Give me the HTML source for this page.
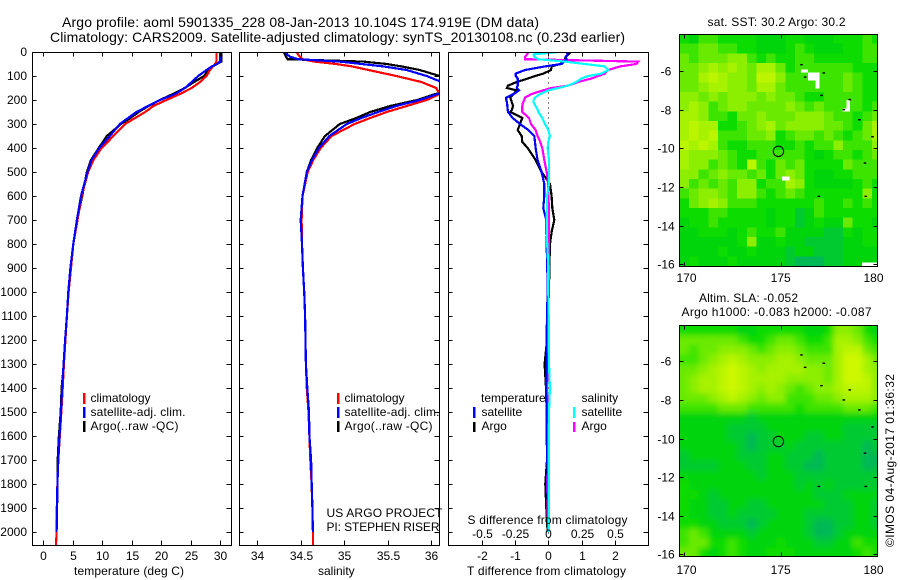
<!DOCTYPE html>
<html>
<head>
<meta charset="utf-8">
<title>Argo profile chart</title>
<style>
html,body{margin:0;padding:0;background:#fff;width:900px;height:580px;overflow:hidden}
svg{display:block;font-family:"Liberation Sans",sans-serif;fill:#000}
text{font-size:12px;fill:#000}
.t14{font-size:14px}
.line{fill:none;shape-rendering:crispEdges;stroke-linejoin:miter}
.crisp{shape-rendering:crispEdges}
</style>
</head>
<body>
<svg id="chart" xmlns="http://www.w3.org/2000/svg" width="900" height="580" viewBox="0 0 900 580">
  <defs>
    <clipPath id="clip-temp"><rect x="32" y="52" width="199" height="494"/></clipPath>
    <clipPath id="clip-sal"><rect x="239" y="52" width="201" height="494"/></clipPath>
    <clipPath id="clip-diff"><rect x="448" y="52" width="201" height="494"/></clipPath>
    <clipPath id="clip-sst"><rect x="679" y="34" width="199" height="232"/></clipPath>
    <clipPath id="clip-sla"><rect x="679" y="325" width="199" height="231"/></clipPath>
    <filter id="smooth-sla" filterUnits="userSpaceOnUse" x="660" y="300" width="240" height="280"><feGaussianBlur stdDeviation="2.8"/></filter>
  </defs>

  <text class="t14" x="62" y="27" textLength="477">Argo profile: aoml 5901335_228 08-Jan-2013 10.104S 174.919E (DM data)</text>
  <text class="t14" x="50" y="42" textLength="575">Climatology: CARS2009. Satellite-adjusted climatology: synTS_20130108.nc (0.23d earlier)</text>

  <g id="marks"></g>
  <g id="axes"></g>

  <g>
    <rect x="83" y="393" width="2.5" height="11" fill="#f00"/>
    <text x="90.5" y="402">climatology</text>
    <rect x="83" y="407" width="2.5" height="11" fill="#00f"/>
    <text x="90.5" y="416" textLength="95">satellite-adj. clim.</text>
    <rect x="83" y="421" width="2.5" height="11" fill="#000"/>
    <text x="90.5" y="430" textLength="88">Argo(..raw -QC)</text>
  </g>
  <text x="74" y="575" textLength="110">temperature (deg C)</text>

  <g>
    <rect x="337" y="393" width="2.5" height="11" fill="#f00"/>
    <text x="344.5" y="402">climatology</text>
    <rect x="337" y="407" width="2.5" height="11" fill="#00f"/>
    <text x="344.5" y="416" textLength="95">satellite-adj. clim.</text>
    <rect x="337" y="421" width="2.5" height="11" fill="#000"/>
    <text x="344.5" y="430" textLength="88">Argo(..raw -QC)</text>
  </g>
  <text x="326.5" y="517" textLength="116">US ARGO PROJECT</text>
  <text x="326.5" y="531" textLength="113">PI: STEPHEN RISER</text>
  <text x="318" y="575">salinity</text>

  <g>
    <text x="481" y="402">temperature</text>
    <rect x="473" y="407" width="2.5" height="11" fill="#00f"/>
    <text x="481.5" y="416">satellite</text>
    <rect x="473" y="422" width="2.5" height="10" fill="#000"/>
    <text x="481.5" y="430">Argo</text>
    <text x="581.5" y="402">salinity</text>
    <rect x="573" y="407" width="2.5" height="11" fill="#0ff"/>
    <text x="581.5" y="416">satellite</text>
    <rect x="573" y="422" width="2.5" height="10" fill="#f0f"/>
    <text x="581.5" y="430">Argo</text>
  </g>
  <text x="467.5" y="524" textLength="160">S difference from climatology</text>
  <text x="467" y="575" textLength="159">T difference from climatology</text>

  <text x="707.5" y="26" textLength="138">sat. SST: 30.2 Argo: 30.2</text>
  <text x="699" y="302" textLength="99">Altim. SLA: -0.052</text>
  <text x="681.5" y="316" textLength="190">Argo h1000: -0.083 h2000: -0.087</text>
  <text transform="translate(894,547) rotate(-90)" textLength="173">©IMOS 04-Aug-2017 01:36:32</text>
</svg>

<script>
// ---- profile data ----
const profileDepths = [0,10,20,30,40,50,60,75,100,125,150,175,200,225,250,275,300,350,400,450,500,600,700,800,900,1000,1100,1200,1300,1400,1500,1600,1700,1800,1900,2000];
const climDepths = [0,10,20,30,40,50,60,75,100,125,150,175,200,225,250,275,300,350,400,450,500,600,700,800,900,1000,1100,1200,1300,1400,1500,1600,1700,1800,1900,2000,2054];

const tempClim = [29.4,29.4,29.4,29.4,29.4,29.15,28.8,28.3,27.7,26.6,25.2,23.2,20.9,18.7,17.3,15.6,13.9,11.9,9.9,8.5,7.6,6.5,5.8,5.1,4.7,4.3,4.0,3.75,3.5,3.3,3.05,2.8,2.55,2.4,2.3,2.25,2.15];
const tempSat = [30,30,30,30,30,29.5,28.6,27.7,26.3,25.2,24.05,22.4,19.8,17.8,15.8,14.4,13,11.3,9.5,8.2,7.5,6.4,5.7,5.1,4.6,4.25,4,3.7,3.45,3.2,3,2.75,2.55,2.4,2.35,2.25];
const tempArgo = [30.2,30.2,30.2,30.2,30.2,29.4,28.8,28,27.3,25.6,24,22,19.8,17.9,16.2,14.8,13.2,10.8,9.4,8.1,7.4,6.6,5.75,5.1,4.65,4.3,4,3.75,3.5,3.1,2.95,2.65,2.45,2.4,2.3,2.25];

const salClim = [34.45,34.47,34.49,34.52,34.66,34.91,35.09,35.28,35.6,35.89,36.06,36.1,35.95,35.72,35.49,35.30,35.12,34.855,34.73,34.645,34.58,34.52,34.51,34.515,34.525,34.54,34.55,34.555,34.56,34.57,34.59,34.6,34.61,34.625,34.635,34.64,34.64];
const salSat = [34.34,34.34,34.38,34.47,34.95,35.2,35.45,35.72,35.95,36.12,36.3,36.08,35.87,35.6,35.39,35.2,35.03,34.83,34.71,34.63,34.57,34.52,34.5,34.515,34.525,34.54,34.55,34.555,34.56,34.576,34.595,34.6,34.62,34.626,34.635,34.64];
const salArgo = [34.3,34.32,34.33,34.35,35.22,35.49,35.66,35.87,36.1,36.4,36.5,36.05,35.84,35.53,35.3,35.14,34.95,34.78,34.69,34.62,34.57,34.52,34.51,34.515,34.525,34.54,34.55,34.555,34.56,34.57,34.595,34.6,34.62,34.625,34.635,34.64];

const diffDepths = [0,10,20,30,40,50,60,75,90,100,110,125,140,150,160,175,190,200,210,225,240,250,275,300,325,350,375,400,450,500,550,600,650,700,750,800,900,1000,1100,1200,1300,1400,1500,1600,1700,1800,1900,2000];
const diffTempArgo = [.68,.60,.52,.50,.48,.35,.10,.08,-.15,-.40,-.60,-.95,-1.21,-1.24,-.95,-1.04,-1.14,-1.12,-1.09,-1.06,-1.09,-1.14,-.78,-.85,-.92,-.80,-.78,-.62,-.38,-.20,.05,.10,.12,.18,.10,.05,.03,.02,-.02,-.04,-.11,-.07,-.01,.02,-.04,-.09,-.06,-.02];
const diffTempSat = [.55,.58,.52,.55,.48,.40,-.10,-.70,-.98,-.98,-.92,-.92,-.92,-.95,-.88,-1.04,-1.26,-1.26,-1.24,-1.23,-1.22,-1.21,-1.07,-.85,-.60,-.42,-.40,-.38,-.32,-.20,-.12,-.12,-.15,-.06,-.06,-.05,-.03,-.02,-.04,-.05,-.05,-.07,-.05,-.05,-.03,-.02,-.01,0];
const diffSalArgo = [-.15,-.16,-.175,-.175,.675,.66,.54,.45,.425,.375,.325,.225,.15,.025,-.04,-.125,-.175,-.18,-.19,-.195,-.195,-.195,-.145,-.13,-.095,-.08,-.06,-.045,-.03,-.012,0,0,.005,.005,.005,.005,.005,0,-.003,-.005,-.005,-.01,-.005,-.003,-.005,-.008,-.005,0];
const diffSalSat = [.075,-.11,-.105,-.075,.125,.275,.425,.45,.40,.30,.25,.21,.15,.075,0,-.06,-.10,-.11,-.11,-.095,-.08,-.075,-.045,-.025,0,.012,0,-.005,.005,.005,.005,-.01,-.01,-.012,-.012,-.008,0,0,.003,.003,.005,.012,.005,.003,.003,.003,.003,.003];

// ---- tick labels ----
const depthTicks = [0,100,200,300,400,500,600,700,800,900,1000,1100,1200,1300,1400,1500,1600,1700,1800,1900,2000];
const tempTicks = [0,5,10,15,20,25,30];
const salTicks = [34,34.5,35,35.5,36];
const diffTTicks = [-2,-1,0,1,2];
const diffSTicks = [-0.5,-0.25,0,0.25,0.5];
const diffSTickLabels = ["-0.5","-0.25","0","0.25","0.5"];
const lonTicks = [170,175,180];
const latTicks = [-6,-8,-10,-12,-14,-16];

// ---- map data (colour class 0 = teal low .. 9 = yellow high, half-degree cells) ----
const cellLons = [169.75,170.25,170.75,171.25,171.75,172.25,172.75,173.25,173.75,174.25,174.75,175.25,175.75,176.25,176.75,177.25,177.75,178.25,178.75,179.25,179.75];
const sstGrid = [
[3,2,4,4,3,3,3,3,2,2,2,3,3,2,2,2,3,3,3,4,3],
[4,4,5,5,4,4,3,3,2,2,2,3,4,3,2,2,2,3,3,4,4],
[5,4,5,5,5,6,6,4,3,4,3,3,4,4,3,3,3,3,3,4,4],
[5,5,6,7,6,7,6,5,7,7,5,3,4,4,4,4,4,4,3,3,3],
[5,5,7,8,7,6,6,5,8,8,6,4,4,4,4,4,4,5,4,3,3],
[5,5,6,7,7,6,6,5,7,7,5,4,4,4,4,4,4,5,4,3,3],
[6,6,5,6,5,6,6,6,5,6,5,5,4,3,3,4,4,4,4,3,3],
[6,7,6,4,5,6,6,5,5,5,5,6,5,4,5,4,4,4,4,3,4],
[7,7,6,4,4,3,5,5,6,5,5,5,6,6,6,5,4,4,3,4,5],
[7,8,7,7,3,3,4,5,6,7,5,6,6,6,6,5,5,4,3,5,7],
[7,8,7,8,4,4,4,5,5,6,3,4,5,5,4,5,4,3,4,5,7],
[8,7,8,7,4,3,3,4,4,4,3,3,4,3,4,4,6,4,4,4,6],
[7,6,6,6,5,4,3,3,4,4,4,4,4,3,2,3,4,4,3,4,5],
[7,6,6,4,5,4,3,8,4,3,5,4,5,3,3,3,3,5,4,4,4],
[6,6,4,5,6,5,5,4,5,3,5,6,5,3,2,2,3,3,4,4,4],
[6,4,5,4,5,4,6,6,3,4,4,7,6,3,2,2,2,2,3,4,3],
[4,5,6,6,5,4,6,6,4,3,4,5,4,3,3,3,3,3,3,6,3],
[3,5,6,7,6,4,4,4,3,3,3,3,3,3,4,3,3,4,3,4,3],
[3,3,3,4,4,3,3,3,3,2,3,3,1,2,4,3,3,3,3,3,3],
[2,3,3,4,3,3,3,3,3,2,3,3,1,2,3,2,2,5,3,3,2],
[2,2,3,3,3,2,3,4,3,3,4,2,2,2,2,1,1,3,2,3,3],
[2,2,2,2,2,2,3,6,2,2,3,2,2,1,1,1,1,2,2,3,3],
[2,2,2,2,3,2,2,3,2,2,2,1,2,2,1,1,1,2,2,2,2],
[2,3,2,2,2,3,2,2,2,2,2,1,0,0,0,1,1,2,2,2,2]
];
const slaGrid = [
[3,3,3,3,3,3,2,2,3,3,3,3,3,2,2,3,6,6,5,3,2],
[5,5,5,5,5,5,4,3,3,4,5,5,4,3,3,4,7,7,6,4,3],
[5,4,5,5,6,6,6,5,4,5,6,6,5,4,4,4,7,8,8,5,4],
[4,4,5,6,7,8,7,6,6,6,7,7,6,5,5,5,7,9,9,7,5],
[5,5,6,7,8,9,8,7,6,7,7,7,7,6,6,5,7,9,9,7,6],
[5,6,7,7,8,9,8,7,7,7,7,6,6,6,6,5,7,9,9,8,6],
[5,6,7,7,8,9,8,7,6,7,6,5,4,5,6,6,7,8,8,8,6],
[5,5,5,6,7,8,7,6,5,6,6,4,4,4,5,5,6,7,7,7,6],
[4,4,4,4,5,5,5,4,4,4,4,4,3,4,4,4,4,5,5,5,4],
[2,2,2,2,2,2,2,1,2,2,2,2,2,2,2,2,2,2,2,2,2],
[2,2,2,2,2,1,1,1,1,2,2,2,2,2,2,2,2,1,1,1,1],
[2,2,2,2,2,1,1,0,1,1,2,2,2,1,1,2,2,1,1,1,1],
[2,2,2,2,2,2,1,0,1,1,1,2,1,1,1,1,1,1,1,0,1],
[1,2,2,2,2,2,1,1,1,2,2,1,1,1,0,1,1,1,1,0,0],
[1,1,1,1,2,2,2,1,1,2,2,1,1,0,0,1,1,1,1,0,0],
[2,2,2,2,2,2,2,2,1,2,2,2,1,1,1,1,1,1,1,1,1],
[3,2,2,2,2,2,2,2,2,2,2,2,1,2,1,2,1,1,1,1,1],
[3,3,2,1,2,2,2,2,2,2,2,2,2,2,1,1,1,2,2,2,2],
[3,2,2,1,1,2,2,1,1,2,2,2,2,2,2,1,1,1,2,2,1],
[3,2,2,1,1,2,1,1,1,1,2,2,2,1,1,1,1,1,2,2,1],
[3,3,2,2,1,1,1,0,1,2,2,2,2,1,0,0,1,1,2,2,1],
[4,5,4,2,2,2,2,1,2,2,2,2,2,1,0,0,1,2,2,2,2],
[4,5,5,3,3,4,3,2,2,2,3,2,2,2,1,1,2,2,4,3,3],
[5,5,3,2,3,4,3,2,2,3,3,3,2,2,2,2,2,2,3,4,3]
];
// missing-data boxes: west lon, north lat, east lon, south lat
const sstMissing = [[176.07,-5.91,176.44,-6.09],[176.44,-6.09,177.04,-6.5],[176.83,-6.5,177.04,-6.91],[178.43,-7.5,178.6,-8.1],[178.22,-7.93,178.43,-8.1],[175.07,-11.47,175.47,-11.67],[179.24,-15.91,180.02,-16.09]];
const islandLons = [176.09,176.28,177.25,177.13,178.6,178.29,179.1,179.78,179.39,176.99,179.43];
const islandLats = [-5.67,-6.31,-6.10,-7.26,-7.48,-8.0,-8.52,-9.4,-10.76,-12.48,-12.48];
const argoLon = 174.919;
const argoLat = -10.104;
const classColors = ["#00b854","#00ca30","#00d40a","#0cdc00","#3ce400","#6aea00","#8cee00","#a6f200","#bcf500","#cef800"];

// ---- scales ----
const depthY = d => 52 + d * 0.24;
const tempX = v => 43.3 + v * 5.89;
const salX = v => 257.3 + (v - 34) * 86.85;
const diffTX = v => 548.3 + v * 33.3;
const diffSX = v => 548.3 + v * 133.2;
const sstMap = {key:'sst', lonX:v => 684.3 + (v - 170) * 19.24, latY:v => 71 + (-6 - v) * 19.33, topLat:-4.09, clip:'clip-sst', left:679.5, right:877.5, top:34.5, bottom:266.5, labelY:282, smooth:false};
const slaMap = {key:'sla', lonX:v => 684.3 + (v - 170) * 19.24, latY:v => 361.3 + (-6 - v) * 19.3, topLat:-4.16, clip:'clip-sla', left:679.5, right:877.5, top:325.5, bottom:556.5, labelY:574, smooth:true};
// tick labels sit slightly inward of the outer map ticks
const lonLabelX = v => v === 170 ? 686.5 : v === 180 ? 873.5 : 780.7;

const NS = 'http://www.w3.org/2000/svg';
const marks = document.getElementById('marks');
const axes = document.getElementById('axes');

function tick(x1, y1, x2, y2) {
  const el = document.createElementNS(NS, 'line');
  
  
  el.setAttribute('x1', x1); el.setAttribute('y1', y1);
  el.setAttribute('x2', x2); el.setAttribute('y2', y2);
  el.setAttribute('stroke', '#000');
  el.setAttribute('class', 'crisp');
  axes.appendChild(el);
}
function label(x, y, str, anchor) {
  const el = document.createElementNS(NS, 'text');
  
  
  el.setAttribute('x', x); el.setAttribute('y', y);
  el.setAttribute('text-anchor', anchor);
  el.textContent = str;
  axes.appendChild(el);
}
function frame(name, x0, y0, x1, y1) {
  const el = document.createElementNS(NS, 'rect');
  
  
  el.setAttribute('x', x0); el.setAttribute('y', y0);
  el.setAttribute('width', x1 - x0); el.setAttribute('height', y1 - y0);
  el.setAttribute('fill', 'none');
  el.setAttribute('stroke', '#000');
  el.setAttribute('class', 'crisp');
  axes.appendChild(el);
}
function series(name, depths, values, xFn, color, width, clip) {
  const el = document.createElementNS(NS, 'polyline');
  
  
  el.setAttribute('points', values.map((v, i) => xFn(v).toFixed(1) + ',' + depthY(depths[i]).toFixed(1)).join(' '));
  el.setAttribute('stroke', color);
  el.setAttribute('stroke-width', width);
  el.setAttribute('class', 'line');
  el.setAttribute('clip-path', 'url(#' + clip + ')');
  marks.appendChild(el);
}
function depthAxis(left, right, withLabels) {
  depthTicks.forEach(d => {
    const y = Math.round(depthY(d)) + 0.5;
    tick(left, y, left + 4, y);
    tick(right - 5, y, right, y);
    if (withLabels) label(27, y + 3.5, d, 'end');
  });
}
function xAxis(ticks, scale, texts, labelY, top, bottom) {
  ticks.forEach((t, i) => {
    const x = Math.round(scale(t)) + 0.5;
    tick(x, top, x, top + 4);
    tick(x, bottom - 5, x, bottom);
    if (texts) label(x, labelY, texts[i], 'middle');
  });
}

// temperature panel
series('temperature-argo-line', profileDepths, tempArgo, tempX, '#000', 2.2, 'clip-temp');
series('temperature-climatology-line', climDepths, tempClim, tempX, '#f00', 2.2, 'clip-temp');
series('temperature-satellite-line', profileDepths, tempSat, tempX, '#00f', 2.2, 'clip-temp');
frame('temperature-panel-frame', 32.5, 52.5, 231.5, 545.5);
depthAxis(32.5, 231.5, true);
xAxis(tempTicks, tempX, tempTicks, 560, 52.5, 545.5);

// salinity panel
series('salinity-argo-line', profileDepths, salArgo, salX, '#000', 2.2, 'clip-sal');
series('salinity-climatology-line', climDepths, salClim, salX, '#f00', 2.2, 'clip-sal');
series('salinity-satellite-line', profileDepths, salSat, salX, '#00f', 2.2, 'clip-sal');
frame('salinity-panel-frame', 239.5, 52.5, 439.5, 545.5);
depthAxis(239.5, 439.5, false);
xAxis(salTicks, salX, salTicks, 560, 52.5, 545.5);

// difference panel
const zeroLine = document.createElementNS(NS, 'line');


zeroLine.setAttribute('x1', diffTX(0)); zeroLine.setAttribute('x2', diffTX(0));
zeroLine.setAttribute('y1', 52.5); zeroLine.setAttribute('y2', 545.5);
zeroLine.setAttribute('stroke', '#000');
zeroLine.setAttribute('stroke-dasharray', '1 4');
zeroLine.setAttribute('class', 'crisp');
marks.appendChild(zeroLine);
series('t-difference-argo-line', diffDepths, diffTempArgo, diffTX, '#000', 2.2, 'clip-diff');
series('s-difference-argo-line', diffDepths, diffSalArgo, diffSX, '#f0f', 2.2, 'clip-diff');
series('t-difference-satellite-line', diffDepths, diffTempSat, diffTX, '#00f', 2.2, 'clip-diff');
series('s-difference-satellite-line', diffDepths, diffSalSat, diffSX, '#0ff', 2.2, 'clip-diff');
frame('difference-panel-frame', 448.5, 52.5, 648.5, 545.5);
depthAxis(448.5, 648.5, false);
xAxis(diffTTicks, diffTX, diffTTicks, 560, 52.5, 545.5);
xAxis(diffSTicks, diffSX, diffSTickLabels, 538, 52.5, 545.5);

// maps
function drawMap(map, grid, missing) {
  const clipGroup = document.createElementNS(NS, 'g');
  
  
  clipGroup.setAttribute('clip-path', 'url(#' + map.clip + ')');
  marks.appendChild(clipGroup);
  const field = document.createElementNS(NS, 'g');
  
  
  if (map.smooth) field.setAttribute('filter', 'url(#smooth-sla)');
  clipGroup.appendChild(field);
  const pad = map.smooth ? 14 : 0;
  const lastRow = grid.length - 1;
  grid.forEach((row, r) => {
    const y0 = map.latY(map.topLat - r * 0.5) - (r === 0 ? pad : 0);
    const y1 = map.latY(map.topLat - (r + 1) * 0.5) + (r === lastRow ? pad : 0);
    const lastCol = row.length - 1;
    row.forEach((v, c) => {
      const x0 = map.lonX(cellLons[c]) - (c === 0 ? pad : 0);
      const x1 = map.lonX(cellLons[c] + 0.5) + (c === lastCol ? pad : 0);
      const cell = document.createElementNS(NS, 'rect');
      
      
      cell.setAttribute('x', x0.toFixed(2)); cell.setAttribute('y', y0.toFixed(2));
      cell.setAttribute('width', (x1 - x0 + 0.4).toFixed(2)); cell.setAttribute('height', (y1 - y0 + 0.4).toFixed(2));
      cell.setAttribute('fill', classColors[v]);
      cell.setAttribute('class', 'crisp');
      field.appendChild(cell);
    });
  });
  missing.forEach(b => {
    const hole = document.createElementNS(NS, 'rect');
    
    
    hole.setAttribute('x', map.lonX(b[0])); hole.setAttribute('y', map.latY(b[1]));
    hole.setAttribute('width', map.lonX(b[2]) - map.lonX(b[0])); hole.setAttribute('height', map.latY(b[3]) - map.latY(b[1]));
    hole.setAttribute('fill', '#fff');
    hole.setAttribute('class', 'crisp');
    clipGroup.appendChild(hole);
  });
  islandLons.forEach((lon, i) => {
    const isle = document.createElementNS(NS, 'ellipse');
    
    
    isle.setAttribute('cx', map.lonX(lon)); isle.setAttribute('cy', map.latY(islandLats[i]));
    isle.setAttribute('rx', 1.5); isle.setAttribute('ry', 0.8);
    isle.setAttribute('fill', '#000');
    marks.appendChild(isle);
  });
  const pos = document.createElementNS(NS, 'circle');
  
  
  pos.setAttribute('cx', map.lonX(argoLon) - 0.5); pos.setAttribute('cy', map.latY(argoLat) + 1);
  pos.setAttribute('r', 5.2);
  pos.setAttribute('fill', 'none');
  pos.setAttribute('stroke', '#000');
  marks.appendChild(pos);
  frame(map.key + '-map-frame', map.left, map.top, map.right, map.bottom);
  lonTicks.forEach(t => {
    const x = Math.round(map.lonX(t)) + 0.5;
    tick(x, map.top, x, map.top + 4);
    tick(x, map.bottom - 4, x, map.bottom);
    label(lonLabelX(t), map.labelY, t, 'middle');
  });
  latTicks.forEach(t => {
    const y = Math.round(map.latY(t)) + 0.5;
    tick(map.left, y, map.left + 4, y);
    tick(map.right - 4, y, map.right, y);
    label(666, y + 4, t, 'middle');
  });
}
drawMap(sstMap, sstGrid, sstMissing);
drawMap(slaMap, slaGrid, []);
</script>
</body>
</html>
